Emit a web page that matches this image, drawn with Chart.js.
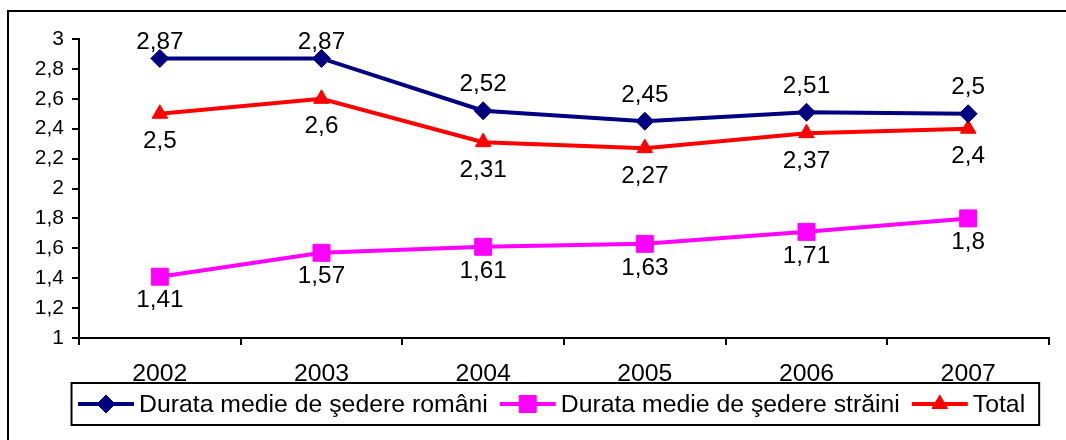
<!DOCTYPE html>
<html><head><meta charset="utf-8">
<script src="https://cdn.jsdelivr.net/npm/chart.js@4.4.1/dist/chart.umd.min.js"></script>
<style>html,body{margin:0;padding:0;background:#fff;} canvas{display:block;}</style>
</head><body>
<canvas id="c" width="1066" height="440"></canvas>
<script>
const years = ['2002', '2003', '2004', '2005', '2006', '2007'];
const romani = [2.87, 2.87, 2.52, 2.45, 2.51, 2.5];
const straini = [1.41, 1.57, 1.61, 1.63, 1.71, 1.8];
const total = [2.5, 2.6, 2.31, 2.27, 2.37, 2.4];
const seriesNames = ['Durata medie de şedere români', 'Durata medie de şedere străini', 'Total'];
const yMin = 1, yMax = 3, yStep = 0.2;

const FONT = "'Liberation Sans', Arial, sans-serif";
const fmt = v => String(Math.round(v * 100) / 100).replace('.', ',');

const frame = {
  id: 'frame',
  beforeDraw(chart) {
    const ctx = chart.ctx;
    ctx.save();
    ctx.fillStyle = '#fff';
    ctx.fillRect(0, 0, chart.width, chart.height);
    ctx.strokeStyle = '#000';
    ctx.lineWidth = 2;
    ctx.beginPath();
    ctx.moveTo(8, chart.height + 5);
    ctx.lineTo(8, 11);
    ctx.lineTo(chart.width + 5, 11);
    ctx.stroke();
    ctx.restore();
  }
};

const valueLabels = {
  id: 'valueLabels',
  afterDatasetsDraw(chart) {
    const ctx = chart.ctx;
    ctx.save();
    ctx.font = '24.3px ' + FONT;
    ctx.fillStyle = '#000';
    ctx.textAlign = 'center';
    ctx.textBaseline = 'middle';
    chart.data.datasets.forEach((ds, i) => {
      const meta = chart.getDatasetMeta(i);
      meta.data.forEach((pt, j) => {
        let y = pt.y + ds.labelOffset;
        y = Math.max(y, chart.chartArea.top + 3);
        ctx.fillText(fmt(ds.data[j]), pt.x, y);
      });
    });
    ctx.restore();
  }
};

const boxLegend = {
  id: 'boxLegend',
  afterDraw(chart) {
    const ctx = chart.ctx;
    ctx.save();
    ctx.font = '24.8px ' + FONT;
    ctx.textBaseline = 'middle';
    ctx.textAlign = 'left';
    const top = 383, bottom = 425, cy = (top + bottom) / 2;
    let x = 78;
    const sample = 56;
    chart.data.datasets.forEach(ds => {
      ctx.strokeStyle = ds.borderColor;
      ctx.lineWidth = 4;
      ctx.beginPath();
      ctx.moveTo(x, cy);
      ctx.lineTo(x + sample, cy);
      ctx.stroke();
      ctx.fillStyle = ds.pointBackgroundColor;
      ctx.strokeStyle = ds.pointBorderColor;
      ctx.lineWidth = 1;
      Chart.helpers.drawPoint(ctx, { pointStyle: ds.pointStyle, radius: ds.pointRadius, rotation: 0, borderWidth: 1 }, x + sample / 2, cy);
      x += sample + 5;
      ctx.fillStyle = '#000';
      ctx.fillText(ds.label, x, cy + 1);
      x += ctx.measureText(ds.label).width + 12;
    });
    const right = x - 12 + 14;
    ctx.strokeStyle = '#000';
    ctx.lineWidth = 2;
    ctx.strokeRect(71.5, top, right - 71.5, bottom - top);
    ctx.restore();
  }
};

function series(label, data, color, style, radius, offset) {
  return {
    label, data,
    borderColor: color, backgroundColor: color,
    pointBackgroundColor: color, pointBorderColor: color,
    pointStyle: style, pointRadius: radius, pointBorderWidth: 1,
    borderWidth: 4, tension: 0, labelOffset: offset
  };
}

new Chart(document.getElementById('c'), {
  type: 'line',
  data: {
    labels: years,
    datasets: [
      series(seriesNames[0], romani, '#000080', 'rectRot', 9, -26),
      series(seriesNames[1], straini, '#FF00FF', 'rect', 12, 24),
      series(seriesNames[2], total, '#FF0000', 'triangle', 9, 28)
    ]
  },
  options: {
    responsive: false,
    animation: false,
    devicePixelRatio: 1,
    layout: { padding: { left: 0, top: 39, right: 17, bottom: 0 } },
    plugins: { legend: { display: false }, tooltip: { enabled: false } },
    scales: {
      x: {
        offset: true,
        grid: { offset: true, drawOnChartArea: false, tickLength: 7, color: '#000', lineWidth: 2 },
        border: { color: '#000', width: 2 },
        ticks: { color: '#000', font: { family: FONT, size: 24.8 }, padding: 14, maxRotation: 0, autoSkip: false },
        afterFit(s) { s.height = 102; }
      },
      y: {
        min: yMin, max: yMax,
        grid: { drawOnChartArea: false, tickLength: 7, color: '#000', lineWidth: 2 },
        border: { color: '#000', width: 2 },
        ticks: { stepSize: yStep, color: '#000', font: { family: FONT, size: 21 }, padding: 8, callback: v => fmt(v) },
        afterFit(s) { s.width = 79; }
      }
    }
  },
  plugins: [frame, valueLabels, boxLegend]
});
</script>
</body></html>
